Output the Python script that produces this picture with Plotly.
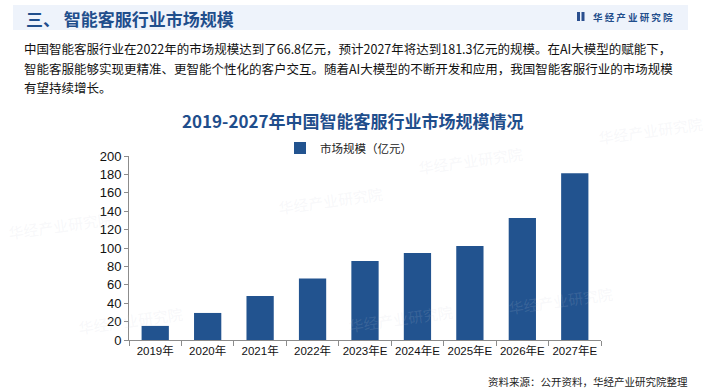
import plotly.graph_objects as go

categories = ["2019年", "2020年", "2021年", "2022年", "2023年E", "2024年E", "2025年E", "2026年E", "2027年E"]
values = [15.3, 29.4, 47.8, 66.8, 85.9, 94.6, 102.3, 132.6, 181.3]
y_ticks = [0, 20, 40, 60, 80, 100, 120, 140, 160, 180, 200]
series_name = "市场规模（亿元）"

W, H = 705, 392
L, R, T, B = 129, 104, 156, 52
pw, ph = W - L - R, H - T - B

def px(x):
    return (x - L) / pw

def py(y):
    return (H - B - y) / ph

CJK = "Noto Sans CJK SC"
fig = go.Figure()
fig.add_trace(go.Bar(
    x=categories, y=values, name=series_name,
    marker=dict(color="#22538f", line=dict(width=0)),
    width=0.52,
))

fig.update_layout(
    width=W, height=H,
    margin=dict(l=L, r=R, t=T, b=B, autoexpand=False),
    paper_bgcolor="white", plot_bgcolor="rgba(0,0,0,0)",
    showlegend=True,
    legend=dict(orientation="h", x=px(280), xanchor="left", y=py(148), yanchor="middle",
                font=dict(family=CJK, size=11.5, color="#222"), bgcolor="rgba(0,0,0,0)",
                itemwidth=30, traceorder="normal"),
    xaxis=dict(showline=True, linecolor="#8c8c8c", linewidth=1, ticks="outside",
               tickson="boundaries", ticklen=5, tickcolor="#8c8c8c", tickangle=0,
               automargin=False,
               tickfont=dict(family="Liberation Sans, " + CJK, size=11.5, color="#111"),
               showgrid=False, fixedrange=True),
    yaxis=dict(range=[0, 200], tickvals=y_ticks, showline=True, linecolor="#8c8c8c",
               linewidth=1, ticks="outside", ticklen=4, tickcolor="#8c8c8c",
               automargin=False,
               tickfont=dict(family="Liberation Sans", size=13, color="#111"),
               showgrid=False, zeroline=False, fixedrange=True),
    bargap=0.48,
)

shapes = []
# header band
shapes.append(dict(type="rect", xref="paper", yref="paper", x0=px(13), x1=px(688), y0=py(30), y1=py(5),
                   fillcolor="#eef3fb", line=dict(width=0), layer="below"))
# logo icon bars
shapes.append(dict(type="rect", xref="paper", yref="paper", x0=px(577), x1=px(580), y0=py(21), y1=py(12),
                   fillcolor="#2a4f8f", line=dict(width=0)))
shapes.append(dict(type="rect", xref="paper", yref="paper", x0=px(581.5), x1=px(584.5), y0=py(21), y1=py(12),
                   fillcolor="#2a4f8f", line=dict(width=0)))
fig.update_layout(shapes=shapes)

ann = []
def add(text, x, y, size, color, xanchor="left", yanchor="middle", family=CJK, textangle=0):
    ann.append(dict(text=text, x=px(x), y=py(y), xref="paper", yref="paper", showarrow=False,
                    xanchor=xanchor, yanchor=yanchor, textangle=textangle,
                    font=dict(family=family, size=size, color=color)))

# faint watermarks
for (wx, wy) in [(330, 200), (470, 160), (60, 225), (560, 300), (650, 130), (400, 318), (130, 320)]:
    add("华经产业研究院", wx, wy, 15, "rgba(200,205,215,0.15)", xanchor="center", textangle=-8)

add("<b>三、 智能客服行业市场规模</b>", 24, 18, 17, "#1f4e8c")
add("<b>华 经 产 业 研 究 院</b>", 591, 17, 9.5, "#1f4e8c")
add("中国智能客服行业在2022年的市场规模达到了66.8亿元，预计2027年将达到181.3亿元的规模。在AI大模型的赋能下，",
    22, 48, 12.5, "#111")
add("智能客服能够实现更精准、更智能个性化的客户交互。随着AI大模型的不断开发和应用，我国智能客服行业的市场规模",
    22, 68, 12.5, "#111")
add("有望持续增长。", 22, 87, 12.5, "#111")
add("<b>2019-2027年中国智能客服行业市场规模情况</b>", 353, 120, 17, "#1f4e8c", xanchor="center")
add("资料来源：公开资料，华经产业研究院整理", 690, 381, 10.5, "#222", xanchor="right")
fig.update_layout(annotations=ann)

fig.write_html("out.html", config={"displayModeBar": False},
               post_script="document.body.style.margin='0';document.body.style.overflow='hidden';")
